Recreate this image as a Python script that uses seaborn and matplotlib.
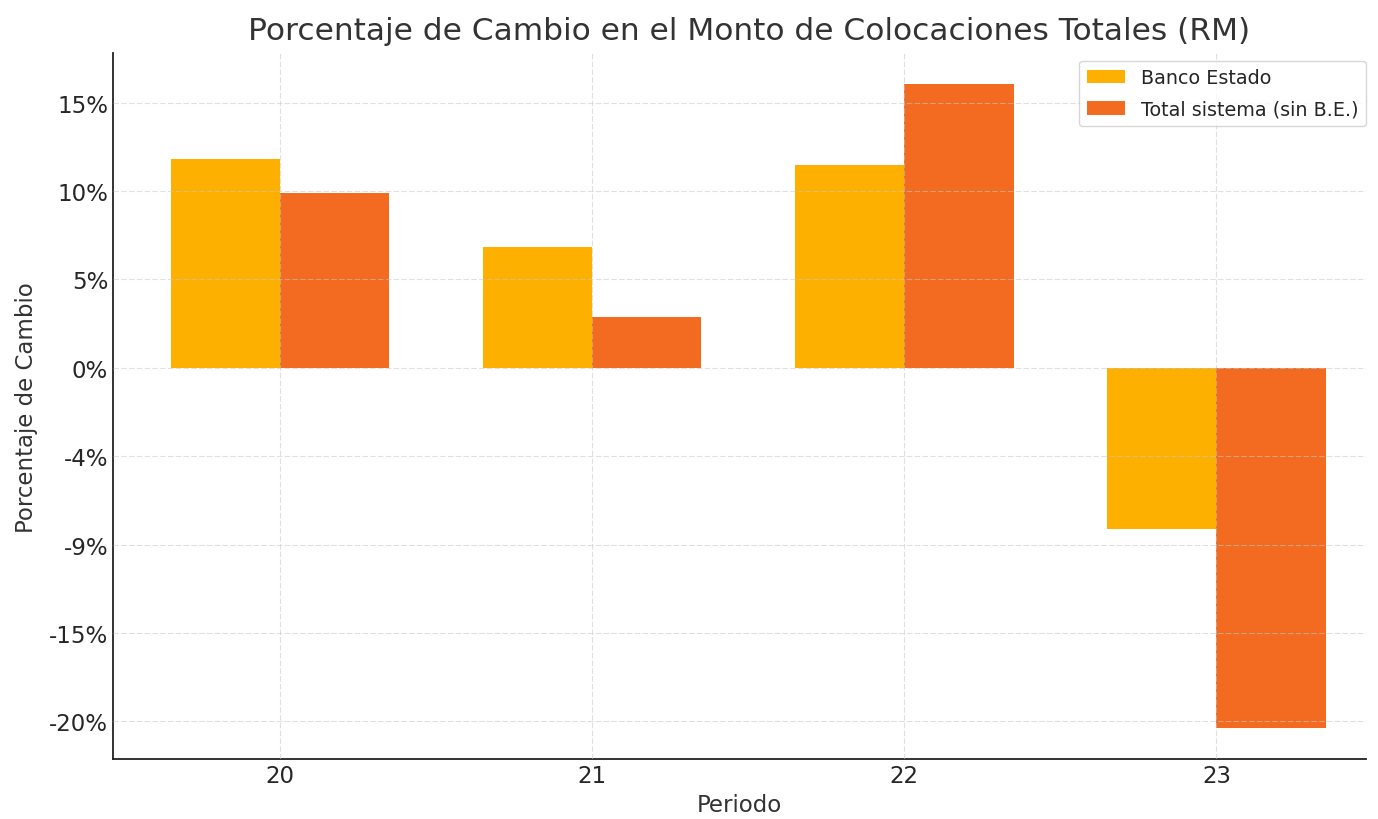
import pandas as pd
import matplotlib.pyplot as plt
import seaborn as sns

# === Data ===
periodos = ["20", "21", "22", "23"]
banco_estado = [11.8, 6.85, 11.5, -9.1]
total_sistema = [9.9, 2.9, 16.05, -20.35]
series = ["Banco Estado", "Total sistema (sin B.E.)"]
ytick_vals = [15, 10, 5, 0, -5, -10, -15, -20]
ytick_labels = ["15%", "10%", "5%", "0%", "-4%", "-9%", "-15%", "-20%"]

df = pd.DataFrame({
    "Periodo": periodos * 2,
    "Cambio": banco_estado + total_sistema,
    "Serie": [series[0]] * len(periodos) + [series[1]] * len(periodos),
})

# === Plot setup ===
sns.set_theme(style="white")
plt.rcParams["font.family"] = ["DejaVu Sans"]
fig, ax = plt.subplots(figsize=(13.78, 8.2), dpi=100)

sns.barplot(
    data=df, x="Periodo", y="Cambio", hue="Serie",
    palette=["#FDB000", "#F26B21"], width=0.7, saturation=1,
    linewidth=0, ax=ax, zorder=2,
)

ax.set_xlim(-0.535, 3.478)
ax.set_ylim(-22.13, 17.8)
ax.set_yticks(ytick_vals)
ax.set_yticklabels(ytick_labels)
ax.set_axisbelow(False)
ax.grid(True, color="#c8c8c8", linestyle=(0, (5, 2)), linewidth=0.8, alpha=0.55, zorder=3)
ax.tick_params(direction="in", labelsize=16.5, length=5, color="#333333")

for side in ["top", "right"]:
    ax.spines[side].set_visible(False)
for side in ["left", "bottom"]:
    ax.spines[side].set_color("#222222")
    ax.spines[side].set_linewidth(1.3)

ax.set_title("Porcentaje de Cambio en el Monto de Colocaciones Totales (RM)",
             fontsize=22.5, color="#333333", pad=10, x=0.508)
ax.set_xlabel("Periodo", fontsize=16.5, color="#333333", labelpad=4)
ax.set_ylabel("Porcentaje de Cambio", fontsize=16.5, color="#333333", labelpad=8)
ax.legend(title=None, loc="upper right", bbox_to_anchor=(1.008, 1.003),
          fontsize=13.8, frameon=True, labelspacing=0.65)

plt.subplots_adjust(left=0.082, right=0.991, top=0.934, bottom=0.073)
plt.savefig("out.png", dpi=100)
plt.close()
